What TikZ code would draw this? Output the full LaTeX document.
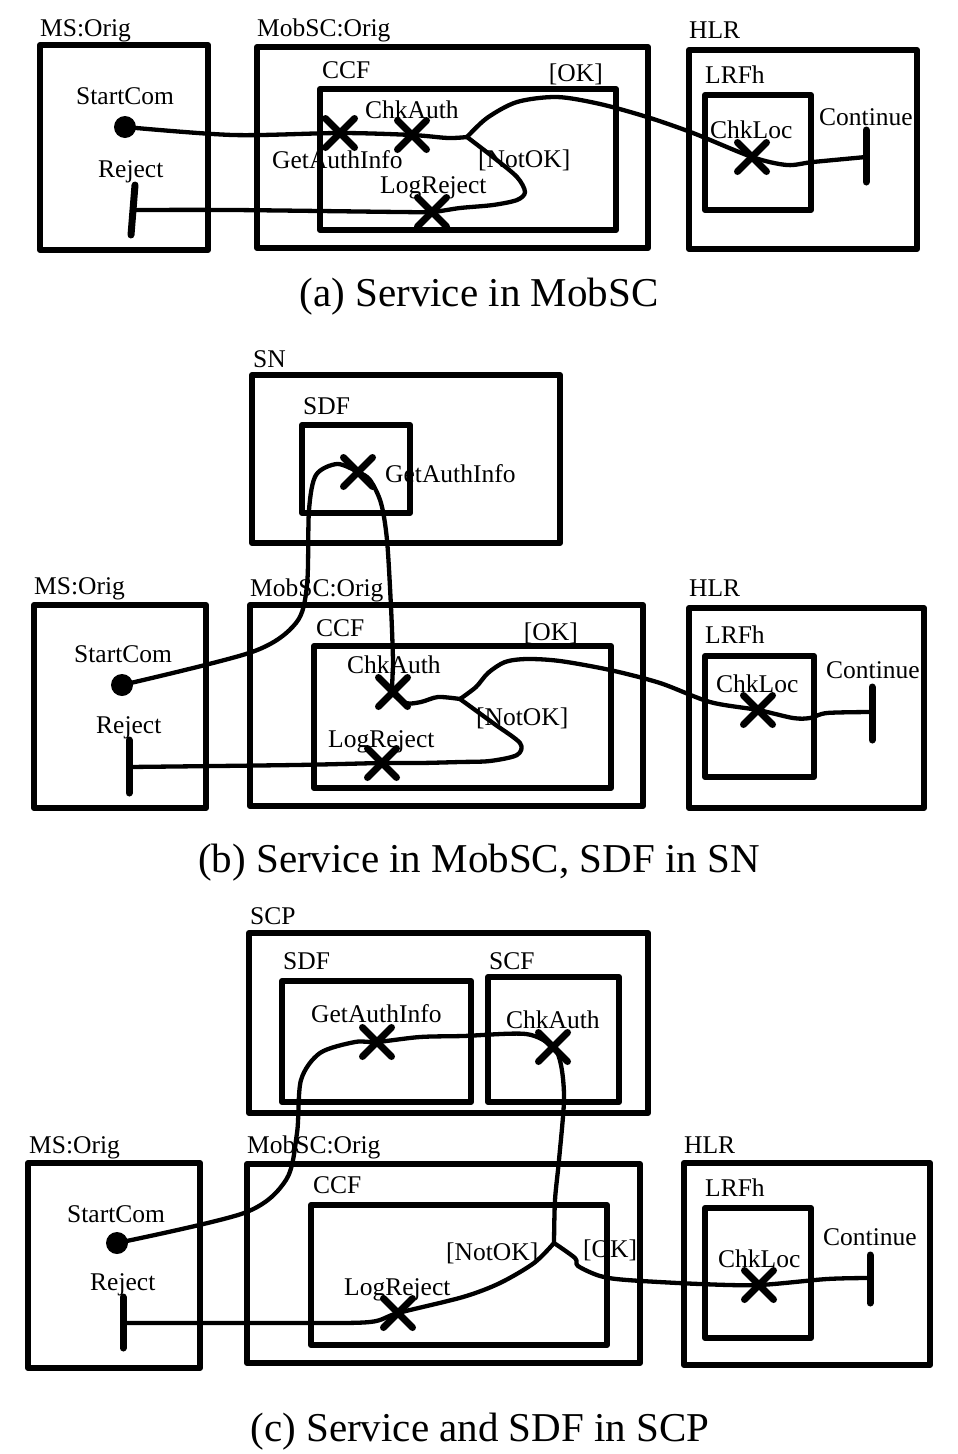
\documentclass[tikz,border=0pt]{standalone}
\usepackage{fontspec}
\setmainfont{Liberation Serif}
\usetikzlibrary{shapes.misc}
\begin{document}
\begin{tikzpicture}[x=1pt,y=-1pt,
  lbl/.style={anchor=base west, inner sep=0pt, font=\fontsize{25.5}{30}\selectfont},
  lble/.style={anchor=base east, inner sep=0pt, font=\fontsize{25.5}{30}\selectfont},
  captext/.style={anchor=base, inner sep=0pt, font=\fontsize{41}{48}\selectfont},
  box/.style={draw, line width=6pt, line join=round},
  flow/.style={line width=4.3pt, line cap=round, line join=round},
  xm/.style={cross out, draw, line width=7pt, line cap=round, minimum size=22pt, inner sep=0pt},
  dot/.style={circle, fill, minimum size=22pt, inner sep=0pt},
  bar/.style={line width=7pt, line cap=round}]
\useasboundingbox (0,0) rectangle (958,1454);

% ================= (a) =================
\node[lbl] (tMSa) at (40,36) {MS:Orig};
\node[lbl] (tMoba) at (257,36) {MobSC:Orig};
\node[lbl] (tHLRa) at (689,38) {HLR};
\node[lbl] (tCCFa) at (322,78) {CCF};
\node[lble] (tOKa) at (603,81) {[OK]};
\node[lbl] (tLRFa) at (705,83) {LRFh};
\node[lbl] (tSCa) at (76,104) {StartCom};
\node[lbl] (tRja) at (98,177) {Reject};
\node[lbl] (tCAa) at (365,118) {ChkAuth};
\node[lbl] (tGAa) at (272,168) {GetAuthInfo};
\node[lbl] (tLRa) at (380,193) {LogReject};
\node[lbl] (tNOa) at (478,167) {[NotOK]};
\node[lbl] (tCLa) at (710,138) {ChkLoc};
\node[lbl] (tCoa) at (819,125) {Continue};
\node[captext] (capa) at (479,306) {(a) Service in MobSC};

\draw[box] (40,45) rectangle (208,250);
\draw[box] (257,47) rectangle (648,248);
\draw[box] (320,89) rectangle (616,230);
\draw[box] (689,50) rectangle (917,249);
\draw[box] (705,95) rectangle (811,210);

\node[xm] (gaiA) at (340,133) {};
\node[xm] (ckaA) at (412,135) {};
\node[xm] (lrA) at (432,212) {};
\node[xm] (clA) at (752,157) {};
\node[dot] (scA) at (125,127) {};
\coordinate (jA) at (467,137);
\coordinate (rejA) at (133,210);
\coordinate (contA) at (866,157);
\draw[bar] (135,185) -- (131,235);
\draw[bar] (866,130) -- (866,182);

\draw[flow] plot[smooth,tension=.5] coordinates {(scA.center) (233,135) (gaiA.center) (ckaA.center) (448,138) (jA)};
\draw[flow] plot[smooth,tension=.5] coordinates {(jA) (487,118) (517,102) (557,97) (600,104) (647,117) (693,133) (clA.center) (787,165) (813,162) (contA)};
\draw[flow] plot[smooth,tension=.5] coordinates {(jA) (493,157) (517,177) (525,192) (517,200) (493,205) (460,208) (lrA.center) (400,212) (233,210) (rejA)};

% ================= (b) =================
\node[lbl] (tSNb) at (253,367) {SN};
\node[lbl] (tSDb) at (303,414) {SDF};
\node[lbl] (tGAb) at (385,482) {GetAuthInfo};
\node[lbl] (tMSb) at (34,594) {MS:Orig};
\node[lbl] (tMobb) at (250,596) {MobSC:Orig};
\node[lbl] (tHLRb) at (689,596) {HLR};
\node[lbl] (tCCFb) at (316,636) {CCF};
\node[lble] (tOKb) at (578,640) {[OK]};
\node[lbl] (tLRFb) at (705,643) {LRFh};
\node[lbl] (tSCb) at (74,662) {StartCom};
\node[lbl] (tRjb) at (96,733) {Reject};
\node[lbl] (tCAb) at (347,673) {ChkAuth};
\node[lbl] (tLRb) at (328,747) {LogReject};
\node[lbl] (tNOb) at (476,725) {[NotOK]};
\node[lbl] (tCLb) at (716,692) {ChkLoc};
\node[lbl] (tCob) at (826,678) {Continue};
\node[captext] (capb) at (479,872) {(b) Service in MobSC, SDF in SN};

\draw[box] (252,375) rectangle (560,543);
\draw[box] (302,425) rectangle (410,513);
\draw[box] (34,605) rectangle (206,808);
\draw[box] (250,605) rectangle (643,806);
\draw[box] (314,646) rectangle (611,788);
\draw[box] (689,608) rectangle (924,808);
\draw[box] (705,656) rectangle (814,777);

\node[xm] (gaiB) at (358,472) {};
\node[xm] (ckaB) at (393,692) {};
\node[xm] (lrB) at (382,763) {};
\node[xm] (clB) at (758,710) {};
\node[dot] (scB) at (122,685) {};
\coordinate (jB) at (460,699);
\coordinate (rejB) at (129,767);
\coordinate (contB) at (872,712);
\draw[bar] (129,740) -- (129,793);
\draw[bar] (872,687) -- (872,740);

\draw[flow] plot[smooth,tension=.5] coordinates {(scB.center) (252,652) (296,623) (307,585) (309,510) (316,475) (337,464) (gaiB.center) (370,480) (381,503) (387,540) (391,607) (393,660) (ckaB.center) (406,703) (421,702) (438,697) (jB)};
\draw[flow] plot[smooth,tension=.5] coordinates {(jB) (476,687) (488,673) (505,662) (527,659) (560,661) (610,670) (660,683) (710,702) (clB.center) (793,718) (810,718) (827,713) (contB)};
\draw[flow] plot[smooth,tension=.5] coordinates {(jB) (493,723) (520,743) (517,755) (490,761) (460,762) (420,763) (lrB.center) (295,765) (rejB)};

% ================= (c) =================
\node[lbl] (tSCPc) at (250,924) {SCP};
\node[lbl] (tSDc) at (283,969) {SDF};
\node[lbl] (tSCFc) at (489,969) {SCF};
\node[lbl] (tGAc) at (311,1022) {GetAuthInfo};
\node[lbl] (tCAc) at (506,1028) {ChkAuth};
\node[lbl] (tMSc) at (29,1153) {MS:Orig};
\node[lbl] (tMobc) at (247,1153) {MobSC:Orig};
\node[lbl] (tHLRc) at (684,1153) {HLR};
\node[lbl] (tCCFc) at (313,1193) {CCF};
\node[lbl] (tLRFc) at (705,1196) {LRFh};
\node[lbl] (tSCc) at (67,1222) {StartCom};
\node[lbl] (tRjc) at (90,1290) {Reject};
\node[lbl] (tNOc) at (446,1260) {[NotOK]};
\node[lbl] (tOKc) at (583,1257) {[OK]};
\node[lbl] (tLRc) at (344,1295) {LogReject};
\node[lbl] (tCLc) at (718,1267) {ChkLoc};
\node[lbl] (tCoc) at (823,1245) {Continue};
\node[captext] (capc) at (480,1441) {(c) Service and SDF in SCP};

\draw[box] (249,933) rectangle (648,1113);
\draw[box] (282,981) rectangle (471,1102);
\draw[box] (488,977) rectangle (619,1102);
\draw[box] (28,1163) rectangle (200,1368);
\draw[box] (247,1164) rectangle (640,1363);
\draw[box] (311,1205) rectangle (607,1345);
\draw[box] (684,1163) rectangle (930,1365);
\draw[box] (705,1208) rectangle (811,1338);

\node[xm] (gaiC) at (377,1042) {};
\node[xm] (ckaC) at (553,1047) {};
\node[xm] (lrC) at (398,1313) {};
\node[xm] (clC) at (759,1285) {};
\node[dot] (scC) at (117,1243) {};
\coordinate (jC) at (554,1243);
\coordinate (rejC) at (123,1323);
\coordinate (contC) at (870,1278);
\draw[bar] (123,1297) -- (123,1348);
\draw[bar] (870,1255) -- (870,1303);

\draw[flow] plot[smooth,tension=.5] coordinates {(scC.center) (244,1213) (286,1180) (297,1133) (301,1080) (320,1053) (355,1042) (gaiC.center) (420,1037) (463,1036) (526,1034) (ckaC.center) (561,1065) (564,1100) (559,1160) (555,1200) (jC)};
\draw[flow] plot[smooth,tension=.5] coordinates {(jC) (534,1263) (500,1283) (463,1297) (lrC.center) (370,1322) (300,1323) (rejC)};
\draw[flow] plot[smooth,tension=.5] coordinates {(jC) (575,1258) (578,1266) (600,1276) (627,1280) (700,1284) (clC.center) (827,1279) (contC)};
\end{tikzpicture}
\end{document}
